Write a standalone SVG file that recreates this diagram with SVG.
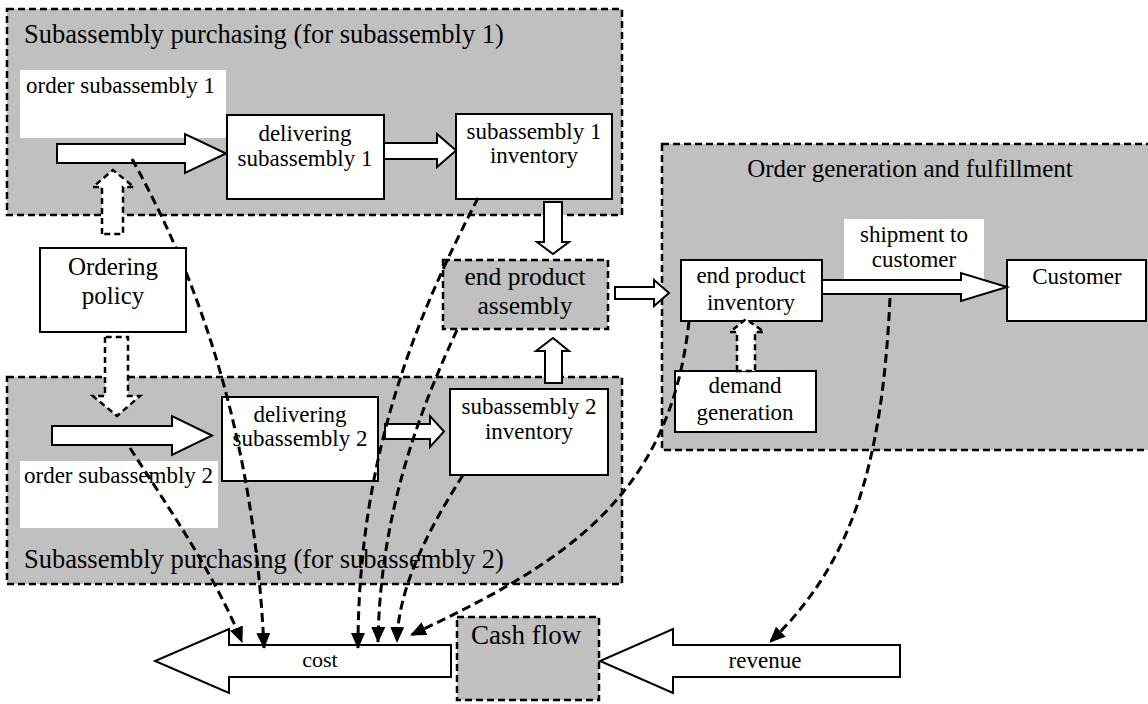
<svg xmlns="http://www.w3.org/2000/svg" width="1148" height="704" viewBox="0 0 1148 704">
<defs>
<style>
.grp{fill:#c0c0c0;stroke:#000;stroke-width:2.5;stroke-dasharray:7 4}
.box{fill:#fff;stroke:#000;stroke-width:2}
.lbl{fill:#fff;stroke:none}
.gbox{fill:#c0c0c0;stroke:#000;stroke-width:2.5;stroke-dasharray:7 4}
.blk{fill:#fff;stroke:#000;stroke-width:2;stroke-linejoin:miter}
.dblk{fill:#fff;stroke:#000;stroke-width:2.5;stroke-dasharray:6 4}
.con{fill:none;stroke:#000;stroke-width:3;stroke-dasharray:9 5}
text{font-family:"Liberation Serif","Times New Roman",serif;fill:#000}
.s23{font-size:23px}
.mid{text-anchor:middle}
</style>
<marker id="ah" markerUnits="userSpaceOnUse" markerWidth="16" markerHeight="14" viewBox="0 0 16 14" refX="15" refY="7" orient="auto">
<path d="M0,0 L16,7 L0,14 Z" fill="#000"/>
</marker>
</defs>

<g id="group-sub1">
<rect class="grp" x="7" y="9" width="615" height="206"/>
<text x="24" y="43" style="font-size:26.5px">Subassembly purchasing (for subassembly 1)</text>
</g>
<g id="group-sub2">
<rect class="grp" x="7" y="377" width="615" height="207"/>
<text x="24" y="568" style="font-size:26.5px">Subassembly purchasing (for subassembly 2)</text>
</g>
<g id="group-order">
<rect class="grp" x="662" y="144" width="495" height="306"/>
<text x="910" y="177" class="mid" style="font-size:25px">Order generation and fulfillment</text>
</g>

<g id="order-sub1">
<rect class="lbl" x="20" y="70" width="206" height="68"/>
<text class="s23" x="26" y="93">order subassembly 1</text>
<path class="blk" d="M57,144 L185,144 L185,134 L226,153.5 L185,173 L185,163 L57,163 Z"/>
</g>
<g id="delivering1">
<rect class="box" x="227" y="115" width="157" height="84"/>
<text class="s23 mid" x="305" y="141">delivering<tspan x="305" dy="25">subassembly 1</tspan></text>
</g>
<g id="inventory1">
<rect class="box" x="456" y="114" width="156" height="85"/>
<text class="s23 mid" x="534" y="139">subassembly 1<tspan x="534" dy="24">inventory</tspan></text>
</g>
<g id="order-sub2">
<rect class="lbl" x="20" y="461" width="198" height="67"/>
<text class="s23" x="24" y="483">order subassembly 2</text>
<path class="blk" d="M52,426 L172,426 L172,416 L212,435.5 L172,455 L172,445 L52,445 Z"/>
</g>
<g id="delivering2">
<rect class="box" x="222" y="397" width="156" height="84"/>
<text class="s23 mid" x="300" y="422">delivering<tspan x="300" dy="24">subassembly 2</tspan></text>
</g>
<g id="inventory2">
<rect class="box" x="450" y="389" width="158" height="86"/>
<text class="s23 mid" x="529" y="414">subassembly 2<tspan x="529" dy="25">inventory</tspan></text>
</g>
<g id="end-product-assembly">
<rect class="gbox" x="443" y="260" width="165" height="69"/>
<text class="mid" style="font-size:25.5px" x="525" y="285">end product<tspan x="525" dy="29">assembly</tspan></text>
</g>
<g id="end-product-inventory">
<rect class="box" x="681" y="260" width="141" height="61"/>
<text class="s23 mid" x="751" y="283">end product<tspan x="751" dy="27">inventory</tspan></text>
</g>
<g id="shipment">
<rect class="lbl" x="844" y="219" width="140" height="60"/>
<text class="s23 mid" x="914" y="242">shipment to<tspan x="914" dy="25">customer</tspan></text>
</g>
<g id="customer">
<rect class="box" x="1007" y="260" width="139" height="61"/>
<text class="s23 mid" x="1077" y="284">Customer</text>
</g>
<g id="demand-generation">
<rect class="box" x="675" y="371" width="141" height="61"/>
<text class="s23 mid" x="745" y="393">demand<tspan x="745" dy="27">generation</tspan></text>
</g>
<g id="cash-flow">
<rect class="gbox" x="457" y="617" width="142" height="83"/>
<text x="471" y="644" style="font-size:27px">Cash flow</text>
</g>
<g id="cost">
<path class="blk" d="M451,645 L229,645 L229,629 L155,661 L229,693 L229,677 L451,677 Z"/>
<text class="mid" style="font-size:22px" x="320" y="667">cost</text>
</g>
<g id="revenue">
<path class="blk" d="M900,645 L673,645 L673,629 L600,661 L673,693 L673,677 L900,677 Z"/>
<text class="s23 mid" x="765" y="668">revenue</text>
</g>

<g id="connectors">
<path class="blk" d="M384,143 L437,143 L437,134 L456,150.5 L437,167 L437,159 L384,159 Z"/>
<path class="blk" d="M385,424 L430,424 L430,416 L444,431.5 L430,447 L430,439 L385,439 Z"/>
<path class="blk" d="M544,202 L544,242 L537,242 L553,254 L569,242 L562,242 L562,202 Z"/>
<path class="blk" d="M545,383 L545,351 L536,351 L553,338 L569,351 L562,351 L562,383 Z"/>
<path class="blk" d="M615,287 L654,287 L654,280 L669,293 L654,306 L654,299 L615,299 Z"/>
<path class="blk" d="M822,280 L961,280 L961,273 L1007,287 L961,301 L961,294 L822,294 Z"/>
<path class="dblk" d="M102,234 L102,187 L93,187 L113,170 L134,187 L123,187 L123,234 Z"/>
<path class="dblk" d="M105,337 L105,396 L93,396 L117,416 L140,396 L128,396 L128,337 Z"/>
<path class="dblk" d="M737,371 L737,332 L730,332 L746,319 L764,332 L755,332 L755,371 Z"/>
<path class="con" marker-end="url(#ah)" d="M130,448 C170,510 215,575 242,642"/>
<path class="con" marker-end="url(#ah)" d="M132,159 C205,290 255,450 264,648"/>
<path class="con" marker-end="url(#ah)" d="M478,198 C420,310 358,450 358,648"/>
<path class="con" marker-end="url(#ah)" d="M457,330 C415,420 380,520 378,642"/>
<path class="con" marker-end="url(#ah)" d="M463,475 C425,535 398,590 397,642"/>
<path class="con" marker-end="url(#ah)" d="M689,321 C670,500 560,565 411,635"/>
<path class="con" marker-end="url(#ah)" d="M890,298 C882,470 850,565 770,642"/>
</g>

<g id="ordering-policy">
<rect class="box" x="40" y="248" width="146" height="84"/>
<text class="mid" style="font-size:25px" x="113" y="275">Ordering<tspan x="113" dy="29">policy</tspan></text>
</g>
</svg>
